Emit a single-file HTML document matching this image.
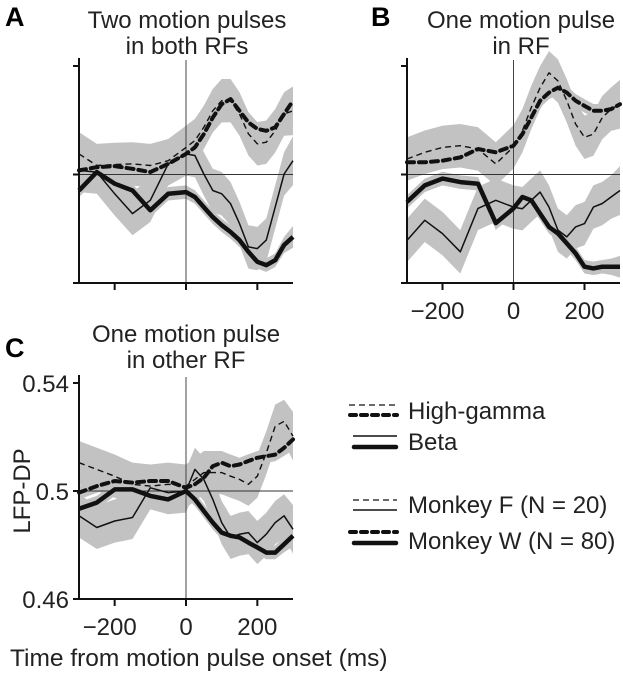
<!DOCTYPE html>
<html><head><meta charset="utf-8">
<style>
html,body{margin:0;padding:0;background:#fff;}
svg{display:block;font-family:"Liberation Sans",Arial,sans-serif;}
</style></head>
<body>
<svg id="fig" width="623" height="679" viewBox="0 0 623 679">
<g id="panels"></g>
<g font-weight="bold" font-size="27">
<text x="5" y="26">A</text>
<text x="371" y="26">B</text>
<text x="5" y="357">C</text>
</g>
<g font-size="24" text-anchor="middle" fill="#222">
<text x="187" y="28">Two motion pulses</text>
<text x="187" y="54">in both RFs</text>
<text x="521" y="28">One motion pulse</text>
<text x="521" y="54">in RF</text>
<text x="186" y="342">One motion pulse</text>
<text x="186" y="368">in other RF</text>
</g>
<text x="30" y="491" font-size="24" text-anchor="middle" transform="rotate(-90 30 491)" fill="#222">LFP-DP</text>
<text x="10" y="666" font-size="24.5" fill="#222">Time from motion pulse onset (ms)</text>
<g fill="#222" font-size="24">
<line x1="349" y1="405" x2="397" y2="405" stroke="#111" stroke-width="1.3" stroke-dasharray="6 4"/>
<line x1="350" y1="415" x2="397" y2="415" stroke="#111" stroke-width="4" stroke-dasharray="6 5" stroke-linecap="round"/>
<text x="408" y="419">High-gamma</text>
<line x1="353" y1="436" x2="397" y2="436" stroke="#111" stroke-width="1.5"/>
<line x1="354" y1="447" x2="396" y2="447" stroke="#111" stroke-width="4.5" stroke-linecap="round"/>
<text x="408" y="450">Beta</text>
<line x1="353" y1="500" x2="397" y2="500" stroke="#111" stroke-width="1.3" stroke-dasharray="6 4"/>
<line x1="353" y1="510" x2="397" y2="510" stroke="#111" stroke-width="1.4"/>
<text x="408" y="513">Monkey F (N = 20)</text>
<line x1="350" y1="532" x2="397" y2="532" stroke="#111" stroke-width="4" stroke-dasharray="6 5" stroke-linecap="round"/>
<line x1="354" y1="543" x2="396" y2="543" stroke="#111" stroke-width="4.5" stroke-linecap="round"/>
<text x="408" y="549">Monkey W (N = 80)</text>
</g>
</svg>
<script>
const times = [-300,-250,-200,-150,-100,-50,0,25,50,75,100,125,150,175,200,225,250,275,300];
const xTicks = [-200,0,200];
const yTicks = [0.46,0.5,0.54];
const yTickLabels = ["0.46","0.5","0.54"];
// Panel A
const aHgF = [0.5076,0.5033,0.5037,0.5039,0.5033,0.5051,0.510,0.5125,0.5174,0.5235,0.5272,0.5272,0.5223,0.515,0.5113,0.5119,0.5161,0.5223,0.5235];
const aHgW = [0.5015,0.5027,0.5031,0.5021,0.5009,0.5039,0.5076,0.510,0.5149,0.521,0.5259,0.5278,0.5235,0.5192,0.5168,0.5161,0.5174,0.5223,0.5272];
const aBetaF = [0.5015,0.5009,0.4929,0.4856,0.4905,0.5039,0.5076,0.507,0.5002,0.4941,0.4929,0.4892,0.4819,0.4733,0.4727,0.4758,0.488,0.5002,0.5051];
const aBetaW = [0.4941,0.5009,0.4966,0.4941,0.4868,0.4929,0.4935,0.4917,0.488,0.4843,0.4813,0.4788,0.4758,0.4715,0.4678,0.4666,0.4684,0.474,0.477];
// Panel B
const bHgF = [0.5057,0.5082,0.51,0.5106,0.5094,0.5039,0.5102,0.5161,0.5247,0.532,0.5375,0.5345,0.5272,0.5186,0.5137,0.5149,0.521,0.5241,0.5259];
const bHgW = [0.5045,0.5045,0.5051,0.5063,0.5094,0.5082,0.5106,0.5149,0.5210,0.5272,0.5302,0.532,0.5302,0.5272,0.5253,0.5235,0.5235,0.5241,0.5259];
const bBetaW = [0.4899,0.4960,0.4985,0.4972,0.4966,0.4821,0.4875,0.4917,0.4905,0.4856,0.4807,0.4783,0.4746,0.4709,0.4660,0.4654,0.4660,0.4660,0.4660];
const bBetaF = [0.4757,0.4831,0.4782,0.4715,0.4875,0.4905,0.4880,0.4874,0.4905,0.4935,0.4880,0.4795,0.4770,0.4807,0.4819,0.4880,0.4893,0.4917,0.4941];
// Panel C
const cHgF = [0.5105,0.5080,0.5055,0.5025,0.5018,0.5025,0.5018,0.5043,0.5068,0.5068,0.5068,0.5055,0.5043,0.5025,0.5055,0.5141,0.5240,0.5258,0.5203];
const cHgW = [0.4994,0.5018,0.5037,0.5031,0.5037,0.5037,0.5012,0.5025,0.5049,0.5092,0.5105,0.5092,0.5098,0.5111,0.5123,0.5129,0.5135,0.5160,0.5191];
const cBetaW = [0.4934,0.4957,0.5006,0.5006,0.4982,0.4969,0.5000,0.4969,0.4926,0.4883,0.4846,0.4834,0.4828,0.4809,0.4791,0.4772,0.4772,0.4803,0.4834];
const cBetaF = [0.4908,0.4865,0.4889,0.4902,0.5012,0.4994,0.5000,0.5080,0.5043,0.4969,0.4883,0.4828,0.4840,0.4846,0.4809,0.4840,0.4883,0.4908,0.4858];
// band half-widths per series type
const bandF = [0.008,0.008,0.008,0.008,0.008,0.008,0.008,0.008,0.008,0.008,0.008,0.008,0.008,0.008,0.008,0.008,0.008,0.008,0.009];
const bandW = [0.0025,0.0025,0.0025,0.0025,0.0025,0.0025,0.0025,0.0025,0.0025,0.0025,0.0025,0.0025,0.0025,0.0025,0.0025,0.0025,0.0025,0.003,0.004];

const NS="http://www.w3.org/2000/svg";
const root=document.getElementById('panels');
function mk(tag,attrs,parent){const e=document.createElementNS(NS,tag);for(const k in attrs)e.setAttribute(k,attrs[k]);parent.appendChild(e);return e;}

const panels=[
 {id:'a',x0:79,x1:293,yTop:66,yBot:283,series:[[aHgF,'hgF'],[aHgW,'hgW'],[aBetaF,'betaF'],[aBetaW,'betaW']],xlab:false,ylab:false},
 {id:'b',x0:407,x1:620,yTop:66,yBot:283,series:[[bHgF,'hgF'],[bHgW,'hgW'],[bBetaF,'betaF'],[bBetaW,'betaW']],xlab:true,ylab:false},
 {id:'c',x0:79,x1:293,yTop:383,yBot:599,series:[[cHgF,'hgF'],[cHgW,'hgW'],[cBetaF,'betaF'],[cBetaW,'betaW']],xlab:true,ylab:true}
];
panels.forEach(p=>{
 const g=mk('g',{},root);
 
 
 const X=t=>p.x0+(t+300)/600*(p.x1-p.x0);
 const Y=v=>p.yBot-(v-0.46)/0.08*(p.yBot-p.yTop);
 p.series.forEach(([vals,kind])=>{
  const bw=kind.endsWith('F')?bandF:bandW;
  let pts=times.map((t,i)=>X(t)+','+Y(vals[i]+bw[i]));
  pts=pts.concat(times.slice().reverse().map((t,j)=>{const i=times.length-1-j;return X(t)+','+Y(vals[i]-bw[i]);}));
  const poly=mk('polygon',{points:pts.join(' '),fill:'#c2c2c2',stroke:'none'},g);
  
  
 });
 const hl=mk('line',{x1:p.x0,x2:p.x1,y1:Y(0.5),y2:Y(0.5),stroke:'#333','stroke-width':1},g);
 
 
 const vl=mk('line',{x1:X(0),x2:X(0),y1:p.yTop-6,y2:p.yBot,stroke:'#444','stroke-width':1},g);
 
 
 p.series.forEach(([vals,kind])=>{
  const d='M'+times.map((t,i)=>X(t).toFixed(1)+','+Y(vals[i]).toFixed(1)).join(' L');
  const a={d:d,fill:'none',stroke:'#111','stroke-linejoin':'round'};
  if(kind==='hgF'){a['stroke-width']=1.4;a['stroke-dasharray']='6 4';}
  if(kind==='hgW'){a['stroke-width']=4;a['stroke-dasharray']='7 5';a['stroke-linecap']='round';}
  if(kind==='betaF'){a['stroke-width']=1.5;}
  if(kind==='betaW'){a['stroke-width']=4.5;}
  const path=mk('path',a,g);
  
  
 });
 const ax=mk('path',{d:`M${p.x0},${p.yTop-8} L${p.x0},${p.yBot} L${p.x1},${p.yBot}`,fill:'none',stroke:'#111','stroke-width':2},g);
 
 
 yTicks.forEach((v,i)=>{
  const tk=mk('line',{x1:p.x0-6,x2:p.x0,y1:Y(v),y2:Y(v),stroke:'#111','stroke-width':2},g);
  
  
  if(p.ylab){
   const tx=mk('text',{x:p.x0-10,y:Y(v)+9,'font-size':24,'text-anchor':'end',fill:'#222'},g);
   tx.textContent=yTickLabels[i];
   
   
  }
 });
 xTicks.forEach(t=>{
  const tk=mk('line',{x1:X(t),x2:X(t),y1:p.yBot,y2:p.yBot+7,stroke:'#111','stroke-width':2},g);
  
  
  if(p.xlab){
   const tx=mk('text',{x:X(t)+(t<0?-5:0),y:p.yBot+36,'font-size':24,'text-anchor':'middle',fill:'#222'},g);
   tx.textContent=t<0?'\u2212'+Math.abs(t):String(t);
   
   
  }
 });
});
</script>
</body></html>
